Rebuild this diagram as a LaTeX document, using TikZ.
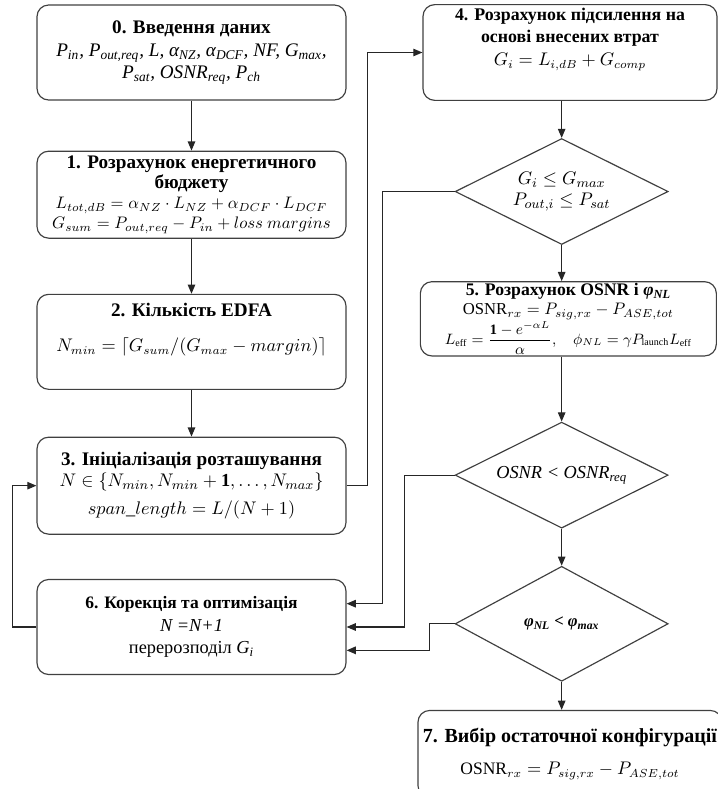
\documentclass[tikz,border=0pt]{standalone}
\usepackage{fontspec}
\setmainfont{Liberation Serif}
\usepackage{amsmath}
\usetikzlibrary{shapes.geometric, arrows.meta, positioning}

\newcommand{\steptitle}[2][11.5]{{\fontsize{#1}{13}\selectfont\bfseries #2}}
\newcommand{\varit}[1]{{\itshape #1}}

\begin{document}
\begin{tikzpicture}[x=0.6pt, y=-0.6pt, node distance=30pt,
        box/.style={rectangle, draw=black!75, rounded corners=7pt, line width=0.7pt, minimum width=185.4pt, minimum height=57pt, text width=178pt, align=flush center, inner sep=2pt, font=\fontsize{10.5}{13}\selectfont},
        decision/.style={diamond, draw=black!75, line width=0.7pt, minimum width=127.8pt, minimum height=63.6pt, aspect=2, inner sep=0pt, align=flush center, font=\fontsize{10.5}{13}\selectfont},
        arrow/.style={-{Triangle[length=5.5pt,width=4.5pt]}, line width=0.7pt, black!85}]

    \useasboundingbox (0,0) rectangle (718,789);

    % left column
    \node[box] (input) at (191.5,52.5) {\steptitle{0. Введення даних}\\[1pt]
        \varit{\fontsize{11.5}{12.5}\selectfont P\textsubscript{in}, P\textsubscript{out,req}, L, α\textsubscript{NZ}, α\textsubscript{DCF}, NF, G\textsubscript{max},}\\
        \varit{\fontsize{11.5}{12.5}\selectfont P\textsubscript{sat}, OSNR\textsubscript{req}, P\textsubscript{ch}}};
    \node[box, minimum height=52.2pt, below=30pt of input, font=\fontsize{10.3}{12}\selectfont] (budget) {\steptitle{1. Розрахунок енергетичного\\ бюджету}\\
        $L_{tot,dB} = \alpha_{NZ}\cdot L_{NZ} + \alpha_{DCF}\cdot L_{DCF}$\\
        $G_{sum} = P_{out,req} - P_{in} + loss\ margins$};
    \node[box, below=33pt of budget] (edfa) {\steptitle{2. Кількість EDFA}\\[8pt]
        $N_{min} = \lceil G_{sum}/(G_{max} - margin)\rceil$\\[4pt]\mbox{}};
    \node[box, minimum height=58.2pt, below=28pt of edfa, font=\fontsize{11}{12.5}\selectfont] (init) {\steptitle{3. Ініціалізація розташування}\\
        $N \in \{N_{min}, N_{min} + \mathbf{1}, \ldots, N_{max}\}$\\[4pt]
        $span\_length = L/(N+1)$};
    \node[box, below=26.5pt of init, font=\fontsize{11}{13.5}\selectfont] (correct) {\steptitle[10.5]{6. Корекція та оптимізація}\\
        \varit{N =N+1}\\
        перерозподіл \varit{G\textsubscript{i}}};

    % right column
    \node[box, minimum width=176.4pt, text width=170pt] (gain) at (570,52.5) {\steptitle[10.7]{4. Розрахунок підсилення на\\ основі внесених втрат}\\[1pt]
        $G_i = L_{i,dB} + G_{comp}$\\[6pt]\mbox{}};
    \node[decision, below=22.2pt of gain, xshift=-5pt, font=\fontsize{11}{13}\selectfont] (check) {$G_i \le G_{max}$\\ $P_{out,i} \le P_{sat}$};
    \node[box, minimum width=177.6pt, text width=172pt, minimum height=40.8pt, inner sep=1pt, below=21.6pt of check, xshift=4pt, font=\fontsize{10}{11.5}\selectfont] (osnr) {\steptitle[10.6]{5. Розрахунок OSNR і \varit{φ\textsubscript{NL}}}\\
        $\mathrm{OSNR}_{rx} = P_{sig,rx} - P_{ASE,tot}$\\
        {\fontsize{8.6}{10}\selectfont $L_{\mathrm{eff}} = \dfrac{\mathbf{1}-e^{-\alpha L}}{\alpha},\quad \phi_{NL} = \gamma P_{\mathrm{launch}} L_{\mathrm{eff}}$}};
    \node[decision, below=39pt of osnr, xshift=-4pt] (osnrchk) {\varit{\fontsize{11}{12}\selectfont OSNR < OSNR\textsubscript{req}}};
    \node[decision, minimum height=69pt, below=22.2pt of osnrchk] (phichk) {\varit{\fontsize{10}{12}\selectfont\bfseries φ\textsubscript{NL} < φ\textsubscript{max}}};
    \node[box, minimum width=182.4pt, text width=178pt, minimum height=52.2pt, below=16.8pt of phichk, xshift=5pt] (final) {\mbox{\steptitle[12]{7. Вибір остаточної конфігурації}}\\[6pt]
        $\mathrm{OSNR}_{rx} = P_{sig,rx} - P_{ASE,tot}$};

    % main flow
    \draw[arrow] (input) -- (budget);
    \draw[arrow] (budget) -- (edfa);
    \draw[arrow] (edfa) -- (init);
    \draw[arrow] (init.east) -- ++(12.6pt,0) |- (gain.west);
    \draw[arrow] (gain.south -| check) -- (check.north);
    \draw[arrow] (check.south) -- (check |- osnr.north);
    \draw[arrow] (osnr.south -| osnrchk) -- (osnrchk.north);
    \draw[arrow] (osnrchk.south) -- (phichk.north);
    \draw[arrow] (phichk.south) -- (phichk |- final.north);

    % feedback loops
    \draw[arrow] (check.west) -- ++(-43.2pt,0) |- ([yshift=14pt]correct.east);
    \draw[arrow] (osnrchk.west) -- ++(-30pt,0) |- (correct.east);
    \draw[arrow] (phichk.west) -- ++(-15pt,0) |- ([yshift=-14pt]correct.east);
    \draw[arrow] (correct.west) -- ++(-14.4pt,0) |- (init.west);

\end{tikzpicture}
\end{document}
